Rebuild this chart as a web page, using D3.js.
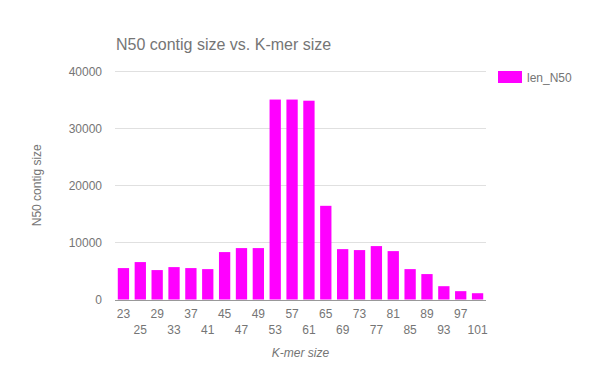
<!DOCTYPE html>
<html>
<head>
<meta charset="utf-8">
<script src="https://cdn.jsdelivr.net/npm/d3@7"></script>
<style>
  body { margin: 0; background: #fff; }
  text { font-family: "Liberation Sans", Arial, sans-serif; }
</style>
</head>
<body>
<script>
// K-mer sizes and N50 values
var kmers = ["23","25","29","33","37","41","45","47","49","53","57","61","65","69","73","77","81","85","89","93","97","101"];
var lenN50 = [5500, 6550, 5150, 5670, 5500, 5320, 8300, 9000, 9000, 35000, 35000, 34800, 16400, 8820, 8650, 9350, 8470, 5320, 4450, 2330, 1460, 1100];
var yTicks = [0, 10000, 20000, 30000, 40000];

var width = 600, height = 371;
var plotLeft = 115, plotRight = 486, plotTop = 71, plotBottom = 299.5;

var svg = d3.select("body")
            .append("svg")
            .attr("width", width)
            .attr("height", height);

var x = d3.scaleBand()
          .domain(kmers)
          .range([plotLeft, plotRight])
          .paddingInner(0.33)
          .paddingOuter(0.165);

var y = d3.scaleLinear()
          .domain([0, 40000])
          .range([plotBottom, plotTop]);

// gridlines
svg.selectAll("line.grid")
   .data(yTicks.slice(1))
   .enter()
   .append("line")
   .attr("class", "grid")
   .attr("x1", plotLeft)
   .attr("x2", plotRight)
   .attr("y1", function(d) { return Math.round(y(d)) + 0.5; })
   .attr("y2", function(d) { return Math.round(y(d)) + 0.5; })
   .attr("stroke", "#e0e0e0")
   .attr("stroke-width", 1);

// y tick labels
svg.selectAll("text.ytick")
   .data(yTicks)
   .enter()
   .append("text")
   .attr("class", "ytick")
   .attr("x", 102)
   .attr("y", function(d) { return y(d) + 4.5; })
   .attr("text-anchor", "end")
   .attr("font-size", "12px")
   .attr("fill", "#757575")
   .text(function(d) { return d; });

// bars
svg.selectAll("rect.bar")
   .data(lenN50)
   .enter()
   .append("rect")
   .attr("class", "bar")
   .attr("x", function(d, i) { return x(kmers[i]); })
   .attr("width", x.bandwidth())
   .attr("y", function(d) { return y(d); })
   .attr("height", function(d) { return y(0) - y(d); })
   .attr("fill", "#ff00ff");

// baseline
svg.append("line")
   .attr("x1", plotLeft)
   .attr("x2", plotRight)
   .attr("y1", Math.round(y(0)) + 0.5)
   .attr("y2", Math.round(y(0)) + 0.5)
   .attr("stroke", "#999")
   .attr("stroke-width", 1);

// x labels, staggered on two rows
svg.selectAll("text.xtick")
   .data(kmers)
   .enter()
   .append("text")
   .attr("class", "xtick")
   .attr("x", function(d) { return x(d) + x.bandwidth() / 2; })
   .attr("y", function(d, i) { return i % 2 == 0 ? 318 : 333.5; })
   .attr("text-anchor", "middle")
   .attr("font-size", "12px")
   .attr("fill", "#757575")
   .text(function(d) { return d; });

// title
svg.append("text")
   .attr("x", 116)
   .attr("y", 50)
   .attr("font-size", "16px")
   .attr("fill", "#757575")
   .text("N50 contig size vs. K-mer size");

// axis titles
svg.append("text")
   .attr("x", (plotLeft + plotRight) / 2)
   .attr("y", 357)
   .attr("text-anchor", "middle")
   .attr("font-size", "12px")
   .attr("font-style", "italic")
   .attr("fill", "#757575")
   .text("K-mer size");

svg.append("text")
   .attr("transform", "translate(41," + ((plotTop + plotBottom) / 2) + ") rotate(-90)")
   .attr("text-anchor", "middle")
   .attr("font-size", "12px")
   .attr("fill", "#757575")
   .text("N50 contig size");

// legend
svg.append("rect")
   .attr("x", 498)
   .attr("y", 71)
   .attr("width", 24)
   .attr("height", 12)
   .attr("fill", "#ff00ff");

svg.append("text")
   .attr("x", 527)
   .attr("y", 82)
   .attr("font-size", "12px")
   .attr("fill", "#757575")
   .text("len_N50");
</script>
</body>
</html>
